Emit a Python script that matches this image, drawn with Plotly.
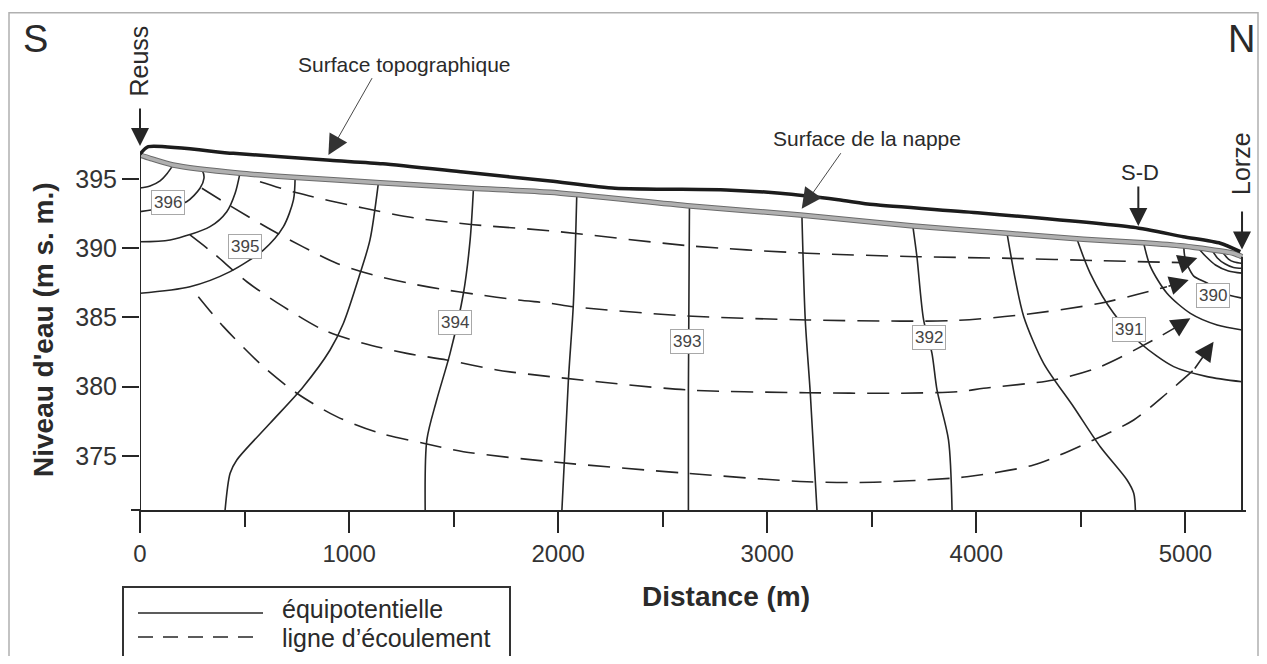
import plotly.graph_objects as go

# ---------------- data (distance in m, level in m s. m.) ----------------
Y_MIN = 371.1
Y_MAX = 406.84
X_MAX = 5290

topo_x = [0, 40, 446, 909, 1161, 1547, 1962, 2272, 2804, 3062, 3340, 3507, 4019, 4751, 4990, 5167, 5263]
topo_y = [396.8, 397.33, 396.85, 396.35, 396.1, 395.5, 394.85, 394.33, 394.21, 393.97, 393.5, 393.15, 392.55, 391.51, 390.83, 390.36, 389.75]

wt_x = [0, 48, 158, 478, 732, 1148, 1593, 1962, 2632, 3158, 3699, 4147, 4512, 4799, 4990, 5230, 5271]
wt_y = [396.73, 396.49, 396.01, 395.41, 395.12, 394.73, 394.33, 394.04, 393.05, 392.40, 391.61, 391.08, 390.65, 390.40, 390.16, 389.64, 389.39]

# equipotential lines (solid)
equi = [
    ([0, 48, 96, 129, 158], [394.35, 394.5, 394.87, 395.38, 396.0]),
    ([0, 110, 223, 287, 306, 300, 287], [392.64, 392.91, 393.36, 394.33, 395.05, 395.53, 395.70]),
    ([0, 144, 335, 415, 455, 478], [390.47, 390.6, 391.56, 392.64, 393.97, 395.41]),
    ([0, 239, 431, 590, 686, 734, 742], [386.75, 387.22, 388.31, 389.87, 391.56, 393.49, 395.12]),
    ([407, 431, 463, 622, 781, 909, 973, 1053, 1100, 1140], [371.1, 373.75, 374.71, 377.36, 380.0, 382.65, 384.58, 388.19, 390.6, 394.69]),
    ([1364, 1372, 1419, 1483, 1547, 1579, 1595], [371.1, 376.16, 379.04, 382.41, 386.75, 390.6, 394.33]),
    ([2018, 2049, 2073, 2089], [371.1, 380.49, 386.03, 393.8]),
    ([2623, 2623, 2628], [371.1, 379.77, 393.03]),
    ([3238, 3206, 3182, 3166], [371.1, 379.53, 384.82, 392.35]),
    ([3697, 3716, 3748, 3788, 3812, 3867, 3884], [391.55, 389.39, 384.82, 382.41, 379.77, 376.16, 371.1]),
    ([4147, 4187, 4227, 4322, 4465, 4593, 4721, 4753, 4761], [391.08, 387.71, 385.06, 381.69, 378.56, 375.67, 373.27, 372.31, 371.1]),
    ([4481, 4545, 4657, 4785, 4944, 5104, 5271], [390.68, 388.19, 385.30, 383.14, 381.45, 380.73, 380.36]),
    ([4800, 4833, 4912, 5024, 5152, 5271], [390.40, 388.67, 386.75, 385.30, 384.46, 384.10]),
    ([4992, 5000, 5040, 5104, 5168, 5271], [390.16, 389.19, 387.99, 387.50, 386.8, 386.4]),
    ([5062, 5096, 5144, 5206, 5271], [390.0, 389.44, 388.79, 388.36, 388.2]),
    ([5128, 5153, 5191, 5230, 5271], [389.87, 389.3, 388.86, 388.61, 388.55]),
    ([5182, 5206, 5234, 5271], [389.64, 389.22, 389.0, 388.91]),
]

# flow lines (dashed) and their arrow tips
flow = [
    ([574, 750, 1068, 1308, 1595, 1962, 2632, 3190, 3716, 4163, 4593, 4990],
     [394.8, 394.0, 392.9, 392.2, 391.7, 391.26, 390.17, 389.64, 389.39, 389.27, 389.10, 388.96]),
    ([296, 431, 612, 780, 943, 1115, 1282, 1435, 1603, 1809, 1962, 2073, 2616, 3190, 3636, 3891, 4211, 4593, 4912],
     [394.33, 393.07, 391.46, 390.1, 388.9, 388.07, 387.49, 387.06, 386.68, 386.26, 386.03, 385.78, 385.11, 384.82, 384.74, 384.78, 385.18, 386.03, 387.22]),
    ([239, 351, 511, 686, 877, 1068, 1276, 1467, 1707, 1962, 2616, 3190, 3636, 3923, 4035, 4370, 4593, 4848, 4960],
     [390.96, 389.64, 387.58, 385.78, 384.10, 383.14, 382.41, 381.93, 381.21, 380.73, 379.77, 379.57, 379.53, 379.65, 379.89, 380.49, 381.45, 383.38, 384.34]),
    ([279, 399, 590, 750, 941, 1148, 1356, 1547, 1962, 2616, 3190, 3509, 3876, 3955, 4274, 4561, 4753, 4912, 5040],
     [386.50, 384.34, 381.45, 379.53, 377.84, 376.64, 375.92, 375.31, 374.59, 373.75, 373.14, 373.10, 373.39, 373.5, 374.35, 376.16, 377.6, 379.53, 381.21]),
]
flow_tip_x = [5057, 5016, 5024, 5135]
flow_tip_y = [389.3, 387.71, 384.94, 383.25]

# equipotential value labels
lab_text = ["396", "395", "394", "393", "392", "391", "390"]
lab_x = [136, 502, 1507, 2617, 3774, 4731, 5134]
lab_y = [393.27, 390.16, 384.62, 383.30, 383.59, 384.10, 386.62]

x_ticks = [0, 1000, 2000, 3000, 4000, 5000]
y_ticks = [375, 380, 385, 390, 395]

# ---------------- figure ----------------
FONT = "Liberation Sans, Arial, sans-serif"
INK = "#262626"
# the page body adds an 8 px margin; the figure is sized to fit the window
W, H = 1251, 648
ML, MR, MT, MB = 132, 13, 7, 146
PW, PH = W - ML - MR, H - MT - MB
PLOT_LEFT_PAGE, PLOT_BOTTOM_PAGE = 140, 510


def px(p):
    """page pixel x -> paper coordinate"""
    return (p - PLOT_LEFT_PAGE) / PW


def py(p):
    """page pixel y -> paper coordinate"""
    return (PLOT_BOTTOM_PAGE - p) / PH


fig = go.Figure()

for ex, ey in equi:
    fig.add_trace(go.Scatter(x=ex, y=ey, mode="lines", line=dict(color=INK, width=1.6, shape="spline", smoothing=0.8),
                             showlegend=False, hoverinfo="skip"))
for fx, fy in flow:
    fig.add_trace(go.Scatter(x=fx, y=fy, mode="lines",
                             line=dict(color=INK, width=1.6, dash="22px,12px", shape="spline", smoothing=0.8),
                             showlegend=False, hoverinfo="skip"))

# water table (grey band) and topographic surface
fig.add_trace(go.Scatter(x=wt_x, y=wt_y, mode="lines", line=dict(color="#6b6b6b", width=5.5, shape="spline", smoothing=0.6),
                         showlegend=False, hoverinfo="skip"))
fig.add_trace(go.Scatter(x=wt_x, y=wt_y, mode="lines", line=dict(color="#b0b0b0", width=3.5, shape="spline", smoothing=0.6),
                         showlegend=False, hoverinfo="skip"))
fig.add_trace(go.Scatter(x=topo_x, y=topo_y, mode="lines", line=dict(color="#1c1c1c", width=3.5, shape="spline", smoothing=0.6),
                         showlegend=False, hoverinfo="skip"))

# section boundaries (left: Reuss, right: Lorze)
fig.add_trace(go.Scatter(x=[topo_x[0], topo_x[0]], y=[Y_MIN, topo_y[0]], mode="lines",
                         line=dict(color=INK, width=2), showlegend=False, hoverinfo="skip"))
fig.add_trace(go.Scatter(x=[wt_x[-1], wt_x[-1]], y=[Y_MIN, wt_y[-1]], mode="lines",
                         line=dict(color=INK, width=2), showlegend=False, hoverinfo="skip"))

ann = []
# flow arrows
for (fx, fy), tx, ty in zip(flow, flow_tip_x, flow_tip_y):
    ann.append(dict(x=tx, y=ty, ax=fx[-1], ay=fy[-1], xref="x", yref="y", axref="x", ayref="y",
                    showarrow=True, arrowhead=2, arrowsize=2.4, arrowwidth=1.6, arrowcolor=INK, text=""))

# value labels
for t, lx, ly in zip(lab_text, lab_x, lab_y):
    ann.append(dict(x=lx, y=ly, xref="x", yref="y", text=t, showarrow=False,
                    font=dict(family=FONT, size=17, color="#444"), bgcolor="white",
                    bordercolor="#a8a8a8", borderwidth=1, borderpad=2))

# vertical location arrows (Reuss, Lorze, S-D)
for xx, tip, tail in [(0, 397.38, 400.2), (5271, 389.9, 392.76), (4775, 391.6, 394.57)]:
    ann.append(dict(x=xx, y=tip, ax=xx, ay=tail, xref="x", yref="y", axref="x", ayref="y",
                    showarrow=True, arrowhead=2, arrowsize=1.8, arrowwidth=2, arrowcolor=INK, text=""))

# pointer arrows to surfaces
ann.append(dict(x=901, y=396.73, ax=1114, ay=402.39, xref="x", yref="y", axref="x", ayref="y",
                showarrow=True, arrowhead=2, arrowsize=4.5, arrowwidth=0.9, arrowcolor="#333", text=""))
ann.append(dict(x=3165, y=392.85, ax=3357, ay=396.97, xref="x", yref="y", axref="x", ayref="y",
                showarrow=True, arrowhead=2, arrowsize=4.5, arrowwidth=0.9, arrowcolor="#333", text=""))


def txt(x, y, s, size, angle=0, bold=False, color="#2a2a2a", xanchor="center"):
    ann.append(dict(x=px(x), y=py(y), xref="paper", yref="paper", text=f"<b>{s}</b>" if bold else s,
                    showarrow=False, textangle=angle, xanchor=xanchor, yanchor="middle",
                    font=dict(family=FONT, size=size, color=color)))


# texts (page pixel positions)
txt(35, 39, "S", 38)
txt(1241, 39, "N", 38)
txt(138, 61.5, "Reuss", 25, angle=-90)
txt(1241, 164, "Lorze", 25, angle=-90)
txt(1140, 173, "S-D", 22)
txt(404, 64.5, "Surface topographique", 21)
txt(867, 138.5, "Surface de la nappe", 21)

# axis titles
txt(43, 330, "Niveau d'eau (m s. m.)", 28, angle=-90, bold=True)
txt(726, 596, "Distance (m)", 28, bold=True)

# legend texts
txt(280, 608.5, "équipotentielle", 25, xanchor="left")
txt(280, 637.5, "ligne d’écoulement", 25, xanchor="left")

shapes = [
    # outer frame
    dict(type="rect", xref="paper", yref="paper", x0=px(9), x1=px(1258), y0=py(700), y1=py(12.7),
         line=dict(color="#b0b0b0", width=1.5), fillcolor="rgba(0,0,0,0)"),
    # axis overshoot at origin
    dict(type="line", xref="paper", yref="paper", x0=px(131), x1=px(141), y0=0, y1=0,
         line=dict(color=INK, width=2)),
    dict(type="line", xref="paper", yref="paper", x0=0, x1=0, y0=py(510), y1=py(520),
         line=dict(color=INK, width=2)),
    # legend box and samples
    dict(type="rect", xref="paper", yref="paper", x0=px(123), x1=px(510), y0=py(657), y1=py(587),
         line=dict(color="#333", width=2), fillcolor="rgba(0,0,0,0)"),
    dict(type="line", xref="paper", yref="paper", x0=px(138), x1=px(263), y0=py(613), y1=py(613),
         line=dict(color=INK, width=1.6)),
    dict(type="line", xref="paper", yref="paper", x0=px(138), x1=px(263), y0=py(637), y1=py(637),
         line=dict(color=INK, width=1.6, dash="15px,10px")),
]

fig.update_layout(
    width=W, height=H,
    margin=dict(l=ML, r=MR, t=MT, b=MB),
    paper_bgcolor="white", plot_bgcolor="white",
    showlegend=False,
    annotations=ann, shapes=shapes,
    xaxis=dict(range=[0, X_MAX], showgrid=False, zeroline=False, showline=True, linecolor=INK, linewidth=2,
               ticks="outside", ticklen=21, tickwidth=2, tickcolor=INK, tickvals=x_ticks,
               ticktext=[str(v) for v in x_ticks], tickfont=dict(family=FONT, size=24, color="#333"),
               minor=dict(dtick=500, tick0=0, ticks="outside", ticklen=15, tickwidth=2, tickcolor=INK, showgrid=False)),
    yaxis=dict(range=[Y_MIN, Y_MAX], showgrid=False, zeroline=False, showline=False,
               ticks="outside", ticklen=17, tickwidth=2, tickcolor=INK, tickvals=y_ticks,
               ticktext=[str(v) for v in y_ticks], tickfont=dict(family=FONT, size=25, color="#333")),
)

fig.write_html("out.html")
